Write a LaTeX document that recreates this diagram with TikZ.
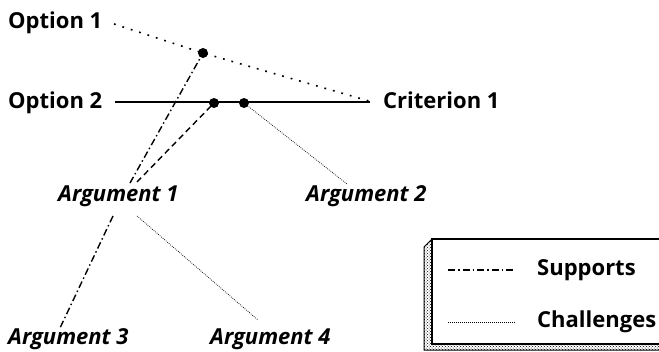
\documentclass[tikz,border=0pt]{standalone}
\usepackage{fontspec}
\setmainfont{Open Sans}
\usetikzlibrary{patterns}
\begin{document}
\begin{tikzpicture}[x=1pt,y=-1pt,
  lbl/.style={inner sep=0pt, anchor=base west, font=\fontsize{22}{26}\selectfont\bfseries},
  ilbl/.style={lbl, font=\fontsize{22}{26}\selectfont\bfseries\itshape},
  supp/.style={line width=1.4pt, dash pattern=on 7pt off 3pt on 1.5pt off 3pt},
  supdash/.style={line width=1.4pt, dash pattern=on 6pt off 4pt},
  chal/.style={line width=0.7pt, dash pattern=on 0.8pt off 1.2pt},
  optline/.style={line width=1.6pt, dash pattern=on 1.8pt off 7pt},
  junction/.style={circle, fill=black, inner sep=0pt, minimum size=10pt}]
\useasboundingbox (0,0) rectangle (659,351);
% labels
\node[lbl] (o1) at (8,28) {Option 1};
\node[lbl] (o2) at (8,108) {Option 2};
\node[lbl] (c1) at (383,108) {Criterion 1};
\node[ilbl] (a1) at (58,201) {Argument 1};
\node[ilbl] (a2) at (306,201) {Argument 2};
\node[ilbl] (a3) at (8,344) {Argument 3};
\node[ilbl] (a4) at (210,344) {Argument 4};
% connection points
\coordinate (o1e) at (114,24);
\coordinate (c1w) at (369,101);
\coordinate (o2e) at (115,102);
\coordinate (c1w2) at (370,102);
\node[junction] (j1) at (203,53) {};
\node[junction] (j2) at (214,103) {};
\node[junction] (j3) at (244,103) {};
\coordinate (a1ta) at (130,183);
\coordinate (a1tb) at (137,182);
\coordinate (a2t) at (347,184);
\coordinate (a1ba) at (113,216);
\coordinate (a1bb) at (137,216);
\coordinate (a3t) at (60,328);
\coordinate (a4t) at (258,320);
% lines
\draw[optline] (o1e) -- (j1.center) -- (c1w);
\draw[line width=1.2pt] (o2e) -- (c1w2);
\draw[supp] (a1ta) -- (j1.center);
\draw[supdash] (a1tb) -- (j2.center);
\draw[chal] (j3.center) -- (a2t);
\draw[supp] (a1ba) -- (a3t);
\draw[chal] (a1bb) -- (a4t);
% legend
\node[lbl, anchor=base west] (ls) at (537,275) {Supports};
\node[lbl, anchor=base west] (lc) at (537,327) {Challenges};
\coordinate (ls1) at (448,270);
\coordinate (ls2) at (515,270);
\coordinate (lc1) at (448,322);
\coordinate (lc2) at (515,322);
\draw[supp, line width=1.2pt] (ls1) -- (ls2);
\draw[chal] (lc1) -- (lc2);
\fill[pattern=crosshatch dots, pattern color=black] (432,239) -- (424,247) -- (424,350) -- (660,350) -- (660,344) -- (432,344) -- cycle;
\draw[line width=1pt] (432,239) -- (424,247) -- (424,350) -- (660,350);
\draw[line width=1.3pt] (660,239) -- (432,239) -- (432,344) -- (660,344);
\end{tikzpicture}
\end{document}
